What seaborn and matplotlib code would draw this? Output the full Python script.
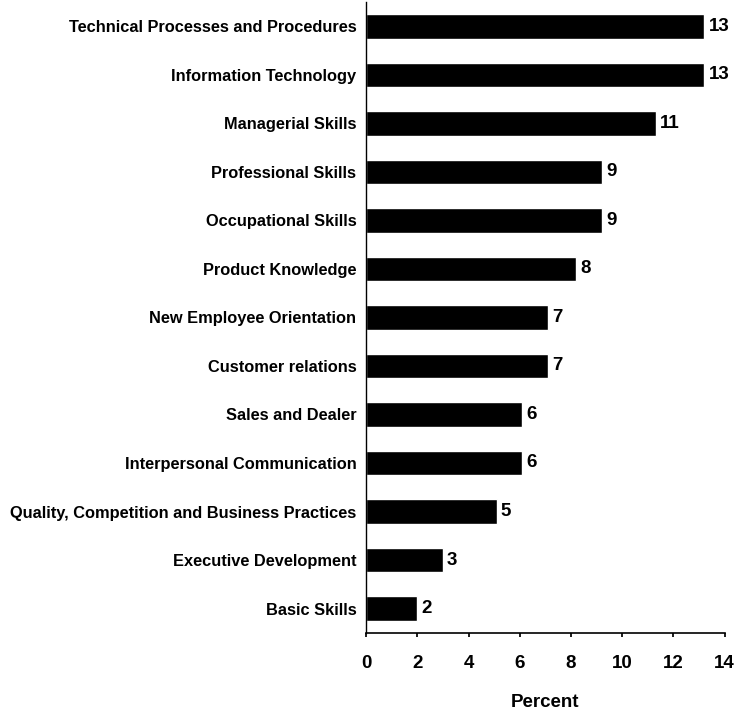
import pandas as pd
import seaborn as sns
from matplotlib import pyplot as plt

categories = ['Technical Processes and Procedures', 'Information Technology',
              'Managerial Skills', 'Professional Skills', 'Occupational Skills',
              'Product Knowledge', 'New Employee Orientation', 'Customer relations',
              'Sales and Dealer', 'Interpersonal Communication',
              'Quality, Competition and Business Practices', 'Executive Development',
              'Basic Skills']
percent = [13.2, 13.2, 11.3, 9.2, 9.2, 8.2, 7.1, 7.1, 6.1, 6.1, 5.1, 3.0, 2.0]
shown = [13, 13, 11, 9, 9, 8, 7, 7, 6, 6, 5, 3, 2]
xticks = [0, 2, 4, 6, 8, 10, 12, 14]

sns.set_theme(style='white')
plt.rcParams['font.family'] = ['Liberation Sans', 'DejaVu Sans']
plt.rcParams['font.weight'] = 'bold'
plt.rcParams['text.color'] = 'black'
plt.rcParams['xtick.color'] = 'black'
plt.rcParams['ytick.color'] = 'black'
plt.rcParams['axes.labelcolor'] = 'black'

df = pd.DataFrame({'Category': categories, 'Percent': percent})

fig = plt.figure(figsize=(7.35, 7.11), dpi=100)
ax = fig.add_axes([0.498, 0.110, 0.488, 0.887])
sns.barplot(data=df, x='Percent', y='Category', color='black', width=0.5,
            saturation=1, ax=ax)

ax.bar_label(ax.containers[0], labels=[str(v) for v in shown], padding=3,
             fontsize=13.5, fontweight='bold', color='black')

ax.set_xlim(0, 14)
ax.set_ylim(12.5, -0.5)
ax.set_xticks(xticks)
ax.set_xticklabels([str(t) for t in xticks], fontsize=13.5, fontweight='bold')
ax.tick_params(axis='x', pad=13, length=3, color='black', direction='out', bottom=True)
ax.tick_params(axis='y', labelsize=11.8, length=0, pad=7)
for lbl in ax.get_yticklabels():
    lbl.set_fontweight('bold')
ax.set_ylabel('')
ax.set_xlabel('Percent', fontsize=13.5, fontweight='bold', labelpad=16)

sns.despine(ax=ax)
ax.spines['left'].set_color('black')
ax.spines['bottom'].set_color('black')
ax.spines['left'].set_linewidth(1)
ax.spines['bottom'].set_linewidth(1.2)

fig.savefig('out.png', dpi=100)
